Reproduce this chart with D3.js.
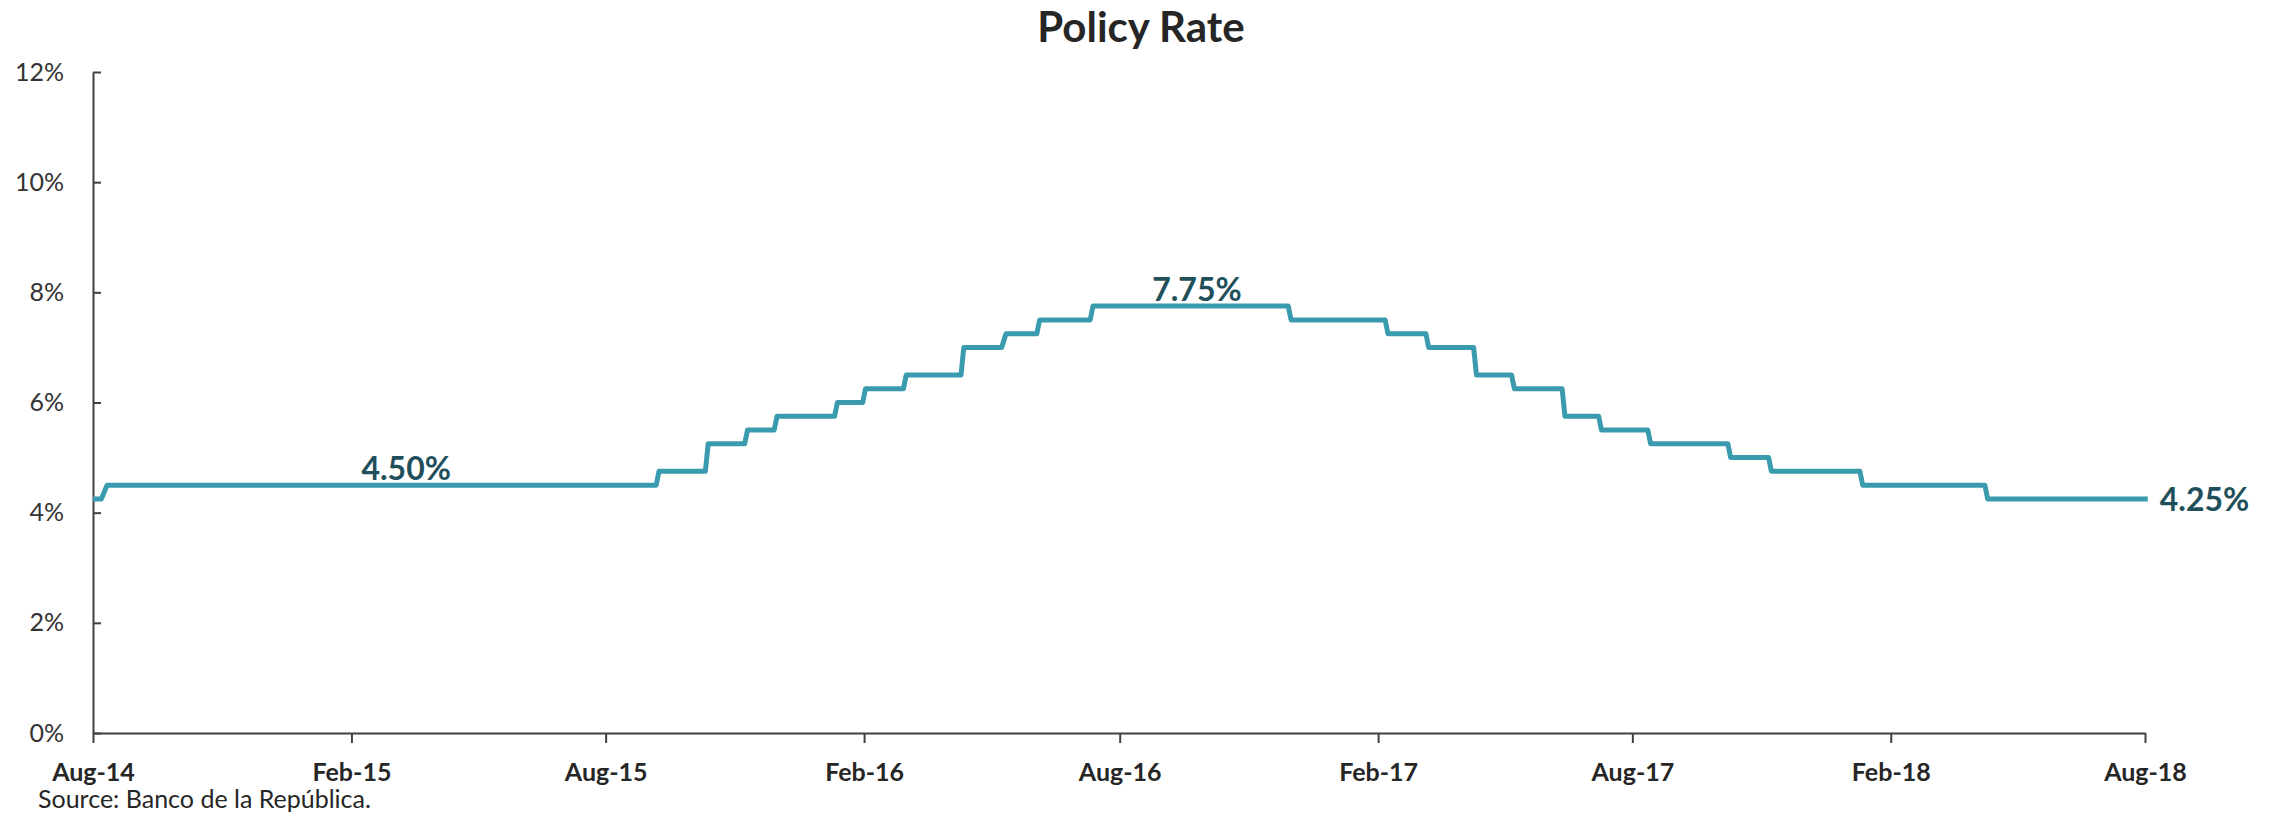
<!DOCTYPE html>
<html>
<head>
<meta charset="utf-8">
<script src="https://cdn.jsdelivr.net/npm/d3@7"></script>
<style>
  html, body { margin: 0; padding: 0; background: #fff; }
  svg { display: block; }
</style>
</head>
<body>
<svg id="chart" width="2282" height="816"></svg>
<script>
// ---- Data ----
const rates = [4.25, 4.50, 4.75, 5.25, 5.50, 5.75, 6.00, 6.25, 6.50, 7.00, 7.25, 7.50, 7.75,
               7.50, 7.25, 7.00, 6.50, 6.25, 5.75, 5.50, 5.25, 5.00, 4.75, 4.50, 4.25];
const levelStart = ["2014-08-01","2014-08-11","2015-09-08","2015-10-13","2015-11-10","2015-12-01",
  "2016-01-13","2016-02-02","2016-03-02","2016-04-12","2016-05-12","2016-06-05","2016-07-13",
  "2016-12-01","2017-02-08","2017-03-09","2017-04-12","2017-05-09","2017-06-14","2017-07-10",
  "2017-08-14","2017-10-10","2017-11-08","2018-01-12","2018-04-11"];
const levelEnd = ["2014-08-07","2015-09-06","2015-10-11","2015-11-08","2015-11-29","2016-01-11",
  "2016-01-31","2016-02-29","2016-04-10","2016-05-09","2016-06-03","2016-07-11","2016-11-29",
  "2017-02-06","2017-03-07","2017-04-10","2017-05-07","2017-06-12","2017-07-08","2017-08-12",
  "2017-10-08","2017-11-06","2018-01-10","2018-04-09","2018-08-03"];

const labelDates = ["2015-03-12", "2016-09-25", "2018-08-03"];
const labelValues = [4.50, 7.75, 4.25];
const labelTexts = ["4.50%", "7.75%", "4.25%"];

const yTicks = [0, 2, 4, 6, 8, 10, 12];
const xTickDates = ["2014-08-01","2015-02-01","2015-08-01","2016-02-01","2016-08-01",
                    "2017-02-01","2017-08-01","2018-02-01","2018-08-01"];

const titleText = "Policy Rate";
const sourceText = "Source: Banco de la República.";

// ---- Layout ----
const W = 2282, H = 816;
const margin = { left: 93, right: 137, top: 72, bottom: 83 };
const parse = d3.timeParse("%Y-%m-%d");

const svg = d3.select("#chart");

const x = d3.scaleTime()
  .domain([parse("2014-08-01"), parse("2018-08-01")])
  .range([margin.left, W - margin.right]);
const y = d3.scaleLinear()
  .domain([0, 12])
  .range([H - margin.bottom, margin.top]);

// Title
svg.append("text")
  .attr("x", W / 2)
  .attr("y", 42)
  .attr("text-anchor", "middle")
  .attr("font-family", "Lato, 'Open Sans', sans-serif")
  .attr("font-weight", 700)
  .attr("font-size", 42)
  .attr("fill", "#262626")
  .text(titleText);

// Y axis
const yAxis = d3.axisLeft(y)
  .tickValues(yTicks)
  .tickFormat(d => d + "%")
  .tickSize(-8)
  .tickSizeOuter(0)
  .tickPadding(29);
const gy = svg.append("g")
  .attr("transform", `translate(${margin.left},0)`)
  .call(yAxis);
gy.select(".domain").attr("stroke", "#404040").attr("stroke-width", 2);
gy.selectAll(".tick line").attr("stroke", "#404040").attr("stroke-width", 2);
gy.selectAll(".tick text")
  .attr("font-family", "Lato, 'Open Sans', sans-serif")
  .attr("font-size", 25)
  .attr("fill", "#333333");

// X axis
const xAxis = d3.axisBottom(x)
  .tickValues(xTickDates.map(parse))
  .tickFormat(d3.timeFormat("%b-%y"))
  .tickSize(10)
  .tickSizeOuter(0)
  .tickPadding(20);
const gx = svg.append("g")
  .attr("transform", `translate(0,${H - margin.bottom})`)
  .call(xAxis);
gx.select(".domain").attr("stroke", "#404040").attr("stroke-width", 2);
gx.selectAll(".tick line").attr("stroke", "#404040").attr("stroke-width", 2);
gx.selectAll(".tick text")
  .attr("font-family", "Lato, 'Open Sans', sans-serif")
  .attr("font-weight", 700)
  .attr("font-size", 25)
  .attr("fill", "#262626");

// Step line
const pts = [];
rates.forEach((r, i) => {
  pts.push([parse(levelStart[i]), r]);
  pts.push([parse(levelEnd[i]), r]);
});
const line = d3.line()
  .x(d => x(d[0]))
  .y(d => y(d[1]));
svg.append("path")
  .datum(pts)
  .attr("d", line)
  .attr("fill", "none")
  .attr("stroke", "#3A9AAE")
  .attr("stroke-width", 5)
  .attr("stroke-linejoin", "round");

// Data labels
labelTexts.forEach((t, i) => {
  const last = i === labelTexts.length - 1;
  svg.append("text")
    .attr("x", x(parse(labelDates[i])) + (last ? 12 : 0))
    .attr("y", y(labelValues[i]) + (last ? 0 : -5))
    .attr("text-anchor", last ? "start" : "middle")
    .attr("dominant-baseline", last ? "central" : "auto")
    .attr("font-family", "Lato, 'Open Sans', sans-serif")
    .attr("font-weight", 700)
    .attr("font-size", 32)
    .attr("fill", "#1F4F5B")
    .text(t);
});

// Source
svg.append("text")
  .attr("x", 38)
  .attr("y", 808)
  .attr("font-family", "Lato, 'Open Sans', sans-serif")
  .attr("font-size", 25)
  .attr("fill", "#262626")
  .text(sourceText);
</script>
</body>
</html>
